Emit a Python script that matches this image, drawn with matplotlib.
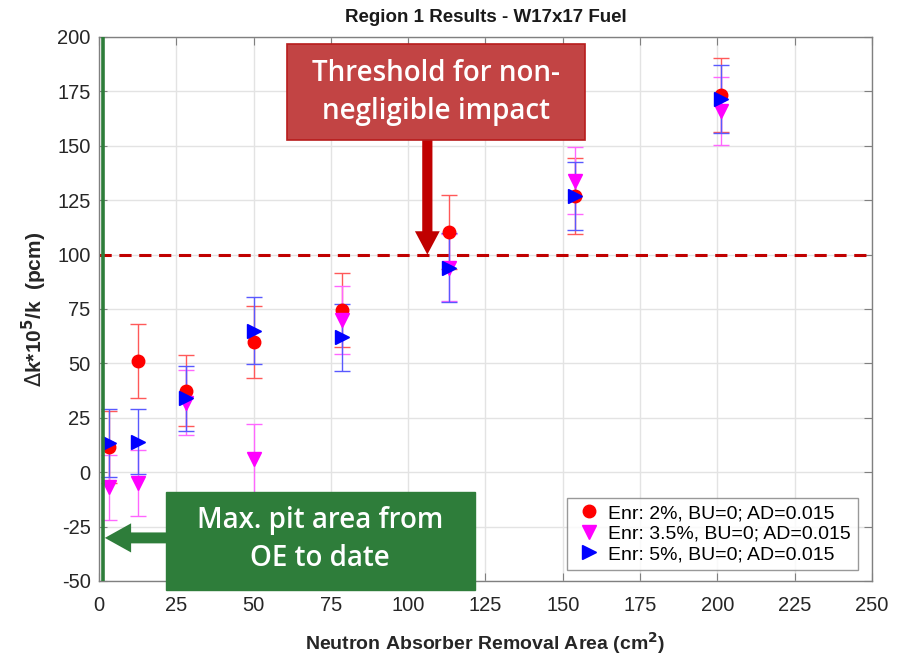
import numpy as np
import matplotlib
matplotlib.use("Agg")
import matplotlib.pyplot as plt
from matplotlib.patches import Rectangle
from matplotlib.lines import Line2D

plt.rcParams['font.family'] = ['Liberation Sans', 'DejaVu Sans']
plt.rcParams['axes.unicode_minus'] = False

# pit areas (cm^2): circles of radius 1..8 cm
area = [3.14, 12.57, 28.27, 50.27, 78.54, 113.10, 153.94, 201.06]

dk_2 = [11.5, 51, 37.5, 60, 74.5, 110.5, 127, 173.5]
err_2 = [16.5, 17, 16.5, 16.5, 17, 17, 17.5, 17]

dk_35 = [-7, -5, 32, 6, 70, 94, 134, 166]
err_35 = [15, 15, 15, 16, 15.5, 15.5, 15.5, 15.5]

dk_5 = [13.5, 14, 34, 65, 62, 94, 127, 171.5]
err_5 = [15.5, 15, 15, 15.5, 15.5, 16, 15.5, 15.5]

labels = ['Enr: 2%, BU=0; AD=0.015',
          'Enr: 3.5%, BU=0; AD=0.015',
          'Enr: 5%, BU=0; AD=0.015']

threshold = 100
max_pit = 1.3

fig = plt.figure(figsize=(8.99, 6.57), dpi=100)
ax = fig.add_axes([0.1101, 0.1157, 0.8598, 0.828])

ax.errorbar(area, dk_2, yerr=err_2, fmt='o', color='red', ms=9,
            ecolor=(1, 0.35, 0.35), elinewidth=1, capsize=6, zorder=3)
ax.errorbar(area, dk_35, yerr=err_35, fmt='v', color='magenta', ms=10,
            ecolor=(1, 0.4, 1), elinewidth=1, capsize=6, zorder=3)
ax.errorbar(area, dk_5, yerr=err_5, fmt='>', color='blue', ms=10,
            ecolor=(0.35, 0.35, 1), elinewidth=1, capsize=6, zorder=3)

ax.axhline(threshold, color='#C00000', ls=(0, (4, 2.5)), lw=2.2, zorder=2)
ax.axvline(max_pit, color='#2E7D3A', lw=2.6, zorder=4)

ax.set_xlim(0, 250)
ax.set_ylim(-50, 200)
ax.set_xticks(np.arange(0, 251, 25))
ax.set_yticks(np.arange(-50, 201, 25))
ax.tick_params(direction='in', labelsize=14.5, colors='#808080', length=6,
               top=True, right=True, labelcolor='#262626', pad=6)
ax.tick_params(axis='x', pad=11)
ax.grid(True, color='#E3E3E3', lw=1)
ax.set_axisbelow(True)
for s in ax.spines.values():
    s.set_color('#808080')
    s.set_linewidth(1)

ax.set_title('Region 1 Results - W17x17 Fuel', fontsize=13.5, fontweight='bold',
             color='#1a1a1a', pad=11)
ax.set_xlabel('Neutron Absorber Removal Area (cm$^\\mathbf{2}$)', fontsize=14,
              fontweight='bold', color='#262626', labelpad=11)
ax.set_ylabel('$\\Delta$k*10$^\\mathbf{5}$/k  (pcm)', fontsize=15,
              fontweight='bold', color='#262626', labelpad=6)

handles = [Line2D([], [], ls='none', marker='o', color='red', ms=9),
           Line2D([], [], ls='none', marker='v', color='magenta', ms=10),
           Line2D([], [], ls='none', marker='>', color='blue', ms=10)]
leg = ax.legend(handles, labels, loc='lower right', fontsize=14, frameon=True,
                fancybox=False, edgecolor='#808080', handletextpad=0.2,
                handlelength=1.6, borderpad=0.35, labelspacing=0.15,
                borderaxespad=0, bbox_to_anchor=(0.982, 0.020))
leg.get_frame().set_linewidth(1)

box_font = dict(fontsize=20, color='white', family=['Open Sans', 'DejaVu Sans'],
                fontweight='semibold', linespacing=1.4, ha='center', va='center',
                zorder=8)

# threshold annotation
ax.add_patch(Rectangle((60.8, 152.7), 96.4, 44.1, fc='#C24444', ec='#B81C1C',
                       lw=1.2, zorder=7, clip_on=False))
ax.text(109, 174.5, 'Threshold for non-\nnegligible impact', **box_font)
ax.annotate('', xy=(106.2, threshold), xytext=(106.2, 153.5),
            arrowprops=dict(arrowstyle='simple,head_width=1.7,head_length=1.6,tail_width=0.7',
                            color='#C00000', lw=0, mutation_scale=10.5,
                            shrinkA=0, shrinkB=0), zorder=6)

# max pit annotation
ax.add_patch(Rectangle((21.7, -54.1), 99.9, 45.0, fc='#2E7D3A', ec='#2E7D3A',
                       lw=1, zorder=7, clip_on=False))
ax.text(71.5, -31, 'Max. pit area from\nOE to date', **box_font)
ax.annotate('', xy=(max_pit + 0.6, -30.2), xytext=(21.8, -30.2),
            arrowprops=dict(arrowstyle='simple,head_width=2.0,head_length=1.8,tail_width=0.75',
                            color='#2E7D3A', lw=0, mutation_scale=10.5,
                            shrinkA=0, shrinkB=0), zorder=6)

fig.savefig('out.png', dpi=100)
